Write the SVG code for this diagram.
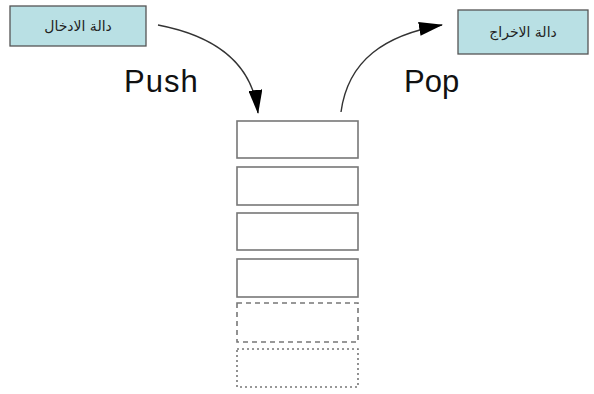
<svg xmlns="http://www.w3.org/2000/svg" width="594" height="394" viewBox="0 0 594 394">
<style>
.fn{fill:#b9e0e4;stroke:#555;stroke-width:1.3}
.fnt{font-family:"DejaVu Sans","Noto Sans",sans-serif;font-size:14px;fill:#222;text-anchor:middle}
.lbl{font-family:"Liberation Sans",Arial,sans-serif;font-size:31px;fill:#111}
.cell{fill:#fff;stroke:#777;stroke-width:1.6}
.arr{fill:none;stroke:#333;stroke-width:1.4}
</style>
<defs>
<marker id="ah" markerWidth="24" markerHeight="14" refX="23" refY="7" orient="auto" markerUnits="userSpaceOnUse">
<path d="M0,0 L24,7 L0,14 z" fill="#000"/>
</marker>
</defs>
<g id="push-fn"><rect class="fn" x="10" y="6" width="136" height="40"/><text class="fnt" x="78" y="31" direction="rtl">دالة الادخال</text></g>
<g id="pop-fn"><rect class="fn" x="458" y="10" width="130" height="44"/><text class="fnt" x="523" y="37" direction="rtl">دالة الاخراج</text></g>
<g id="labels"><text class="lbl" x="124" y="92" letter-spacing="1">Push</text><text class="lbl" x="404" y="92">Pop</text></g>
<g id="stack">
<rect class="cell" x="237" y="121" width="121" height="37"/>
<rect class="cell" x="237" y="167" width="121" height="38"/>
<rect class="cell" x="237" y="213" width="121" height="37"/>
<rect class="cell" x="237" y="259" width="121" height="38"/>
<rect class="cell" x="237" y="303" width="121" height="39" stroke-dasharray="5,4" stroke="#999"/>
<rect class="cell" x="237" y="349" width="121" height="38" stroke-dasharray="2,3" stroke="#aaa"/>
</g>
<g id="connectors">
<path class="arr" d="M158,25 C210,35 252,60 258,113" marker-end="url(#ah)"/>
<path class="arr" d="M341,112 C348,60 385,35 442,25" marker-end="url(#ah)"/>
</g>
</svg>
